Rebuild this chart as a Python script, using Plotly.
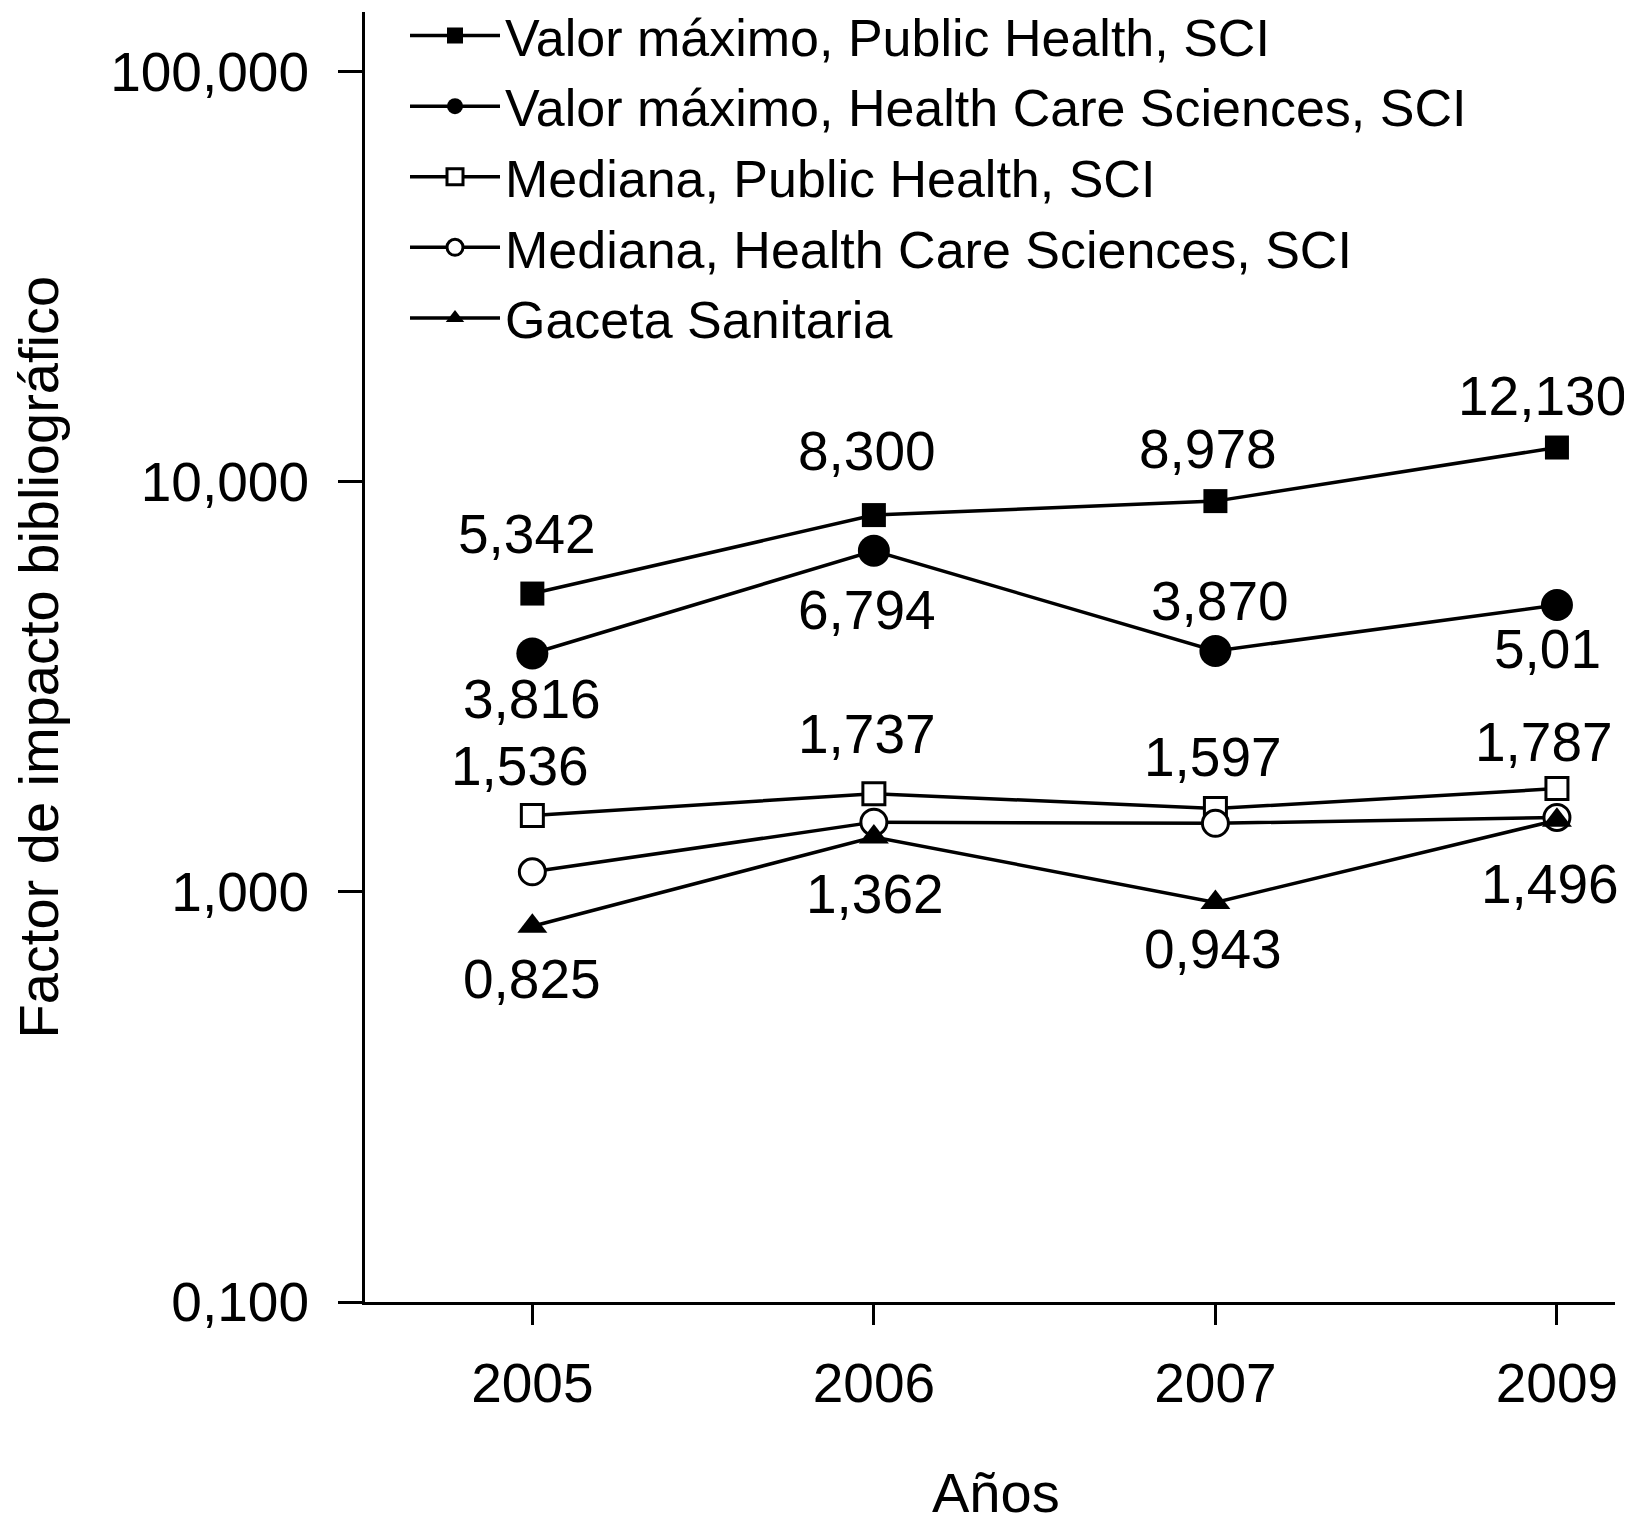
import math
import plotly.graph_objects as go

# 数据
years = ['2005', '2006', '2007', '2009']
max_public_health = [5.342, 8.300, 8.978, 12.130]
max_health_care = [3.816, 6.794, 3.870, 5.01]
median_public_health = [1.536, 1.737, 1.597, 1.787]
median_health_care = [1.12, 1.48, 1.47, 1.52]
gaceta_sanitaria = [0.825, 1.362, 0.943, 1.496]

max_public_health_labels = ['5,342', '8,300', '8,978', '12,130']
max_health_care_labels = ['3,816', '6,794', '3,870', '5,01']
median_public_health_labels = ['1,536', '1,737', '1,597', '1,787']
gaceta_sanitaria_labels = ['0,825', '1,362', '0,943', '1,496']

tick_vals = [0.1, 1, 10, 100]
tick_text = ['0,100', '1,000', '10,000', '100,000']

FONT = 'Liberation Sans, Arial, Helvetica, sans-serif'
FS = 55


def outputHTML():
    fig = go.Figure()

    series = [
        ('Valor máximo, Public Health, SCI', max_public_health, 'square', 24, 'black', 0),
        ('Valor máximo, Health Care Sciences, SCI', max_health_care, 'circle', 32, 'black', 0),
        ('Mediana, Public Health, SCI', median_public_health, 'square', 22, 'white', 3),
        ('Mediana, Health Care Sciences, SCI', median_health_care, 'circle', 26, 'white', 3),
        ('Gaceta Sanitaria', gaceta_sanitaria, 'triangle-up', 26, 'black', 0),
    ]
    for name, vals, sym, size, fill, lw in series:
        fig.add_trace(go.Scatter(
            x=years, y=vals, name=name, mode='lines+markers',
            line=dict(color='black', width=3.5),
            marker=dict(symbol=sym, size=size, color=fill,
                        line=dict(color='black', width=lw)),
            cliponaxis=False,
        ))

    # 数据标签 (dx, dy 为像素偏移)
    label_sets = [
        (max_public_health, max_public_health_labels, [(-5, 60), (-7, 64), (-7, 52), (-15, 52)]),
        (max_health_care, max_health_care_labels, [(0, -46), (-7, -59), (5, 50), (-9, -44)]),
        (median_public_health, median_public_health_labels, [(-12, 50), (-7, 60), (-2, 52), (-13, 47)]),
        (gaceta_sanitaria, gaceta_sanitaria_labels, [(0, -53), (1, -57), (-2, -47), (-7, -64)]),
    ]
    for vals, labels, shifts in label_sets:
        for i, (v, lab, (dx, dy)) in enumerate(zip(vals, labels, shifts)):
            # 类别轴用序号, 对数轴上注释的 y 用 log10
            fig.add_annotation(x=i, y=math.log10(v), xref='x', yref='y',
                               text=lab, showarrow=False,
                               xshift=dx, yshift=dy,
                               font=dict(size=FS, color='black', family=FONT))

    fig.add_annotation(text='Factor de impacto bibliográfico', textangle=-90,
                       xref='paper', yref='paper', x=-0.262, y=0.5,
                       xanchor='center', yanchor='middle', showarrow=False,
                       font=dict(size=56, color='black', family=FONT))
    fig.add_annotation(text='Años', xref='paper', yref='paper', x=0.505, y=-0.148,
                       xanchor='center', yanchor='middle', showarrow=False,
                       font=dict(size=56, color='black', family=FONT))

    fig.update_layout(
        width=1632, height=1530,
        margin=dict(l=357, r=25, t=4, b=236, autoexpand=False),
        plot_bgcolor='white', paper_bgcolor='white',
        font=dict(family=FONT, size=FS, color='black'),
        showlegend=True,
        legend=dict(x=0.032, y=1.013, xanchor='left', yanchor='top',
                    bgcolor='rgba(0,0,0,0)', itemwidth=90,
                    font=dict(size=52, family=FONT), tracegroupgap=0),
    )
    fig.update_xaxes(
        type='category', range=[-0.49, 3.17],
        showline=True, linecolor='black', linewidth=3,
        ticks='outside', ticklen=20, tickwidth=3, tickcolor='black',
        showgrid=False, zeroline=False, ticklabelstandoff=11,
    )
    fig.update_yaxes(
        type='log', range=[-1, 2.146],
        tickvals=tick_vals, ticktext=tick_text,
        showline=True, linecolor='black', linewidth=3,
        ticks='outside', ticklen=24, tickwidth=3, tickcolor='black',
        showgrid=False, zeroline=False, ticklabelstandoff=18,
    )

    fig.write_html('out.html')


def main():
    outputHTML()


if __name__ == '__main__':
    main()
